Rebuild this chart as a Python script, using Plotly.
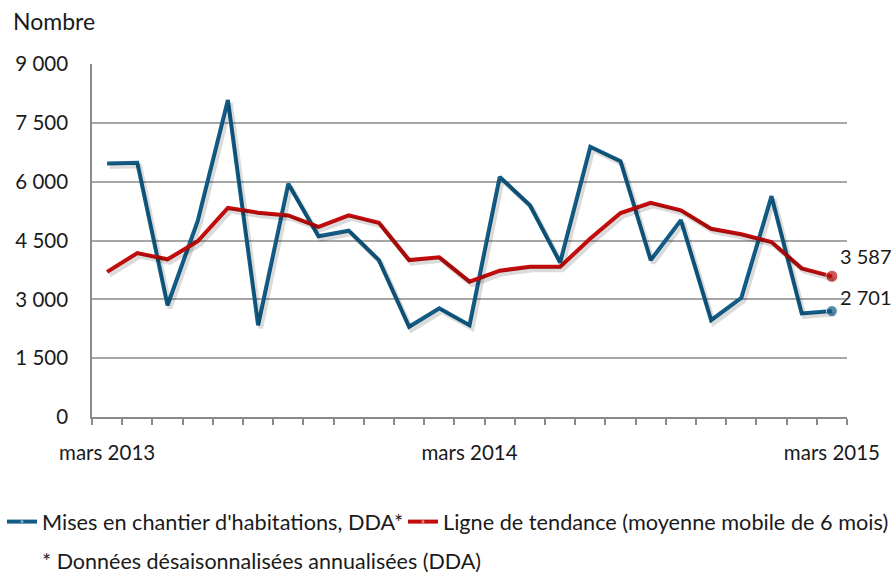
import plotly.graph_objects as go

months = ["mars 2013", "avr. 2013", "mai 2013", "juin 2013", "juil. 2013", "août 2013",
          "sept. 2013", "oct. 2013", "nov. 2013", "déc. 2013", "janv. 2014", "févr. 2014",
          "mars 2014", "avr. 2014", "mai 2014", "juin 2014", "juil. 2014", "août 2014",
          "sept. 2014", "oct. 2014", "nov. 2014", "déc. 2014", "janv. 2015", "févr. 2015",
          "mars 2015"]

mises_en_chantier = [6460, 6480, 2850, 5000, 8080, 2340, 5950, 4610, 4750, 4000, 2300, 2770,
                     2340, 6120, 5400, 3940, 6890, 6520, 4000, 5020, 2470, 3040, 5630, 2640, 2701]

tendance = [3700, 4180, 4020, 4480, 5330, 5210, 5140, 4850, 5140, 4950, 4000, 4070,
            3450, 3730, 3830, 3830, 4550, 5200, 5460, 5270, 4800, 4660, 4460, 3790, 3587]

y_ticks = [0, 1500, 3000, 4500, 6000, 7500, 9000]
y_tick_labels = ["0", "1 500", "3 000", "4 500", "6 000", "7 500", "9 000"]
x_label_idx = [0, 12, 24]

BLUE = "#115d88"
RED = "#c40c0c"
TXT = "#1a1a1a"
FONT = "Lato"

x = list(range(len(months)))

def sizes(n, s):
    return [0] * (n - 1) + [s]

fig = go.Figure()

# soft shadows (drawn on slightly shifted overlay axes)
for vals in (mises_en_chantier, tendance):
    fig.add_trace(go.Scatter(x=x, y=vals, mode="lines", xaxis="x2", yaxis="y2",
                             line=dict(color="rgba(0,0,0,0.14)", width=5),
                             showlegend=False, hoverinfo="skip"))

fig.add_trace(go.Scatter(x=x, y=mises_en_chantier, mode="lines+markers",
                         name="Mises en chantier d'habitations, DDA*",
                         line=dict(color=BLUE, width=4), legend="legend",
                         marker=dict(size=sizes(len(x), 11), color=BLUE)))
fig.add_trace(go.Scatter(x=x, y=tendance, mode="lines+markers",
                         name="Ligne de tendance (moyenne mobile de 6 mois)",
                         line=dict(color=RED, width=4), legend="legend2",
                         marker=dict(size=sizes(len(x), 12), color=RED)))

def fmt(v):
    return f"{v:,}".replace(",", " ")

fig.add_annotation(x=x[-1], y=tendance[-1], text=fmt(tendance[-1]), showarrow=False,
                   xanchor="left", yanchor="middle", xshift=6, yshift=20,
                   font=dict(family=FONT, size=20, color=TXT))
fig.add_annotation(x=x[-1], y=mises_en_chantier[-1], text=fmt(mises_en_chantier[-1]), showarrow=False,
                   xanchor="left", yanchor="middle", xshift=6, yshift=14,
                   font=dict(family=FONT, size=20, color=TXT))

W, H = 896, 574
ml, mr, mt, mb = 92, 49, 64, 157
plot_w = W - ml - mr
plot_h = H - mt - mb

def px_x(p):
    return (p - ml) / plot_w

def px_y(p):
    return (H - mb - p) / plot_h

fig.add_annotation(xref="paper", yref="paper", x=px_x(11), y=px_y(21), text="Nombre",
                   showarrow=False, xanchor="left", yanchor="middle",
                   font=dict(family=FONT, size=23, color=TXT))
fig.add_annotation(xref="paper", yref="paper", x=px_x(40), y=px_y(561),
                   text="* Données désaisonnalisées annualisées (DDA)",
                   showarrow=False, xanchor="left", yanchor="middle",
                   font=dict(family=FONT, size=21.5, color=TXT))

dx = 2.5 / plot_w * 25
dy = 3 / plot_h * 9000

legend_common = dict(orientation="h", xref="container", yref="container",
                     xanchor="left", y=(H - 522) / H, yanchor="middle",
                     font=dict(family=FONT, size=21.7, color=TXT),
                     itemwidth=30, bgcolor="rgba(0,0,0,0)")

fig.update_layout(
    width=W, height=H,
    margin=dict(l=ml, r=mr, t=mt, b=mb, autoexpand=False),
    paper_bgcolor="white", plot_bgcolor="white",
    font=dict(family=FONT, size=20, color=TXT),
    showlegend=True,
    legend=dict(x=2 / W, **legend_common),
    legend2=dict(x=403 / W, **legend_common),
    xaxis=dict(range=[-0.5, 24.5], tickmode="array", tickvals=x_label_idx,
               ticktext=[months[i] for i in x_label_idx], ticks="",
               ticklabelstandoff=17, showgrid=False, zeroline=False,
               showline=True, linecolor="#8a8a8a", linewidth=1.5,
               tickfont=dict(family=FONT, size=20.5, color=TXT),
               minor=dict(tickmode="array", tickvals=[i - 0.5 for i in range(26)],
                          ticks="outside", ticklen=6, tickcolor="#8a8a8a", tickwidth=1.5,
                          showgrid=False)),
    yaxis=dict(range=[0, 9000], tickmode="array", tickvals=y_ticks, ticktext=y_tick_labels,
               ticks="", ticklabelstandoff=18, showgrid=True, gridcolor="#a6a6a6", gridwidth=1.5,
               zeroline=False, showline=True, linecolor="#8a8a8a", linewidth=1.5,
               tickfont=dict(family=FONT, size=20.5, color=TXT)),
    xaxis2=dict(range=[-0.5 - dx, 24.5 - dx], overlaying="x", visible=False),
    yaxis2=dict(range=[dy, 9000 + dy], overlaying="y", visible=False),
)

fig.write_html("out.html", config={"displayModeBar": False},
               post_script="document.body.style.margin='0';")
